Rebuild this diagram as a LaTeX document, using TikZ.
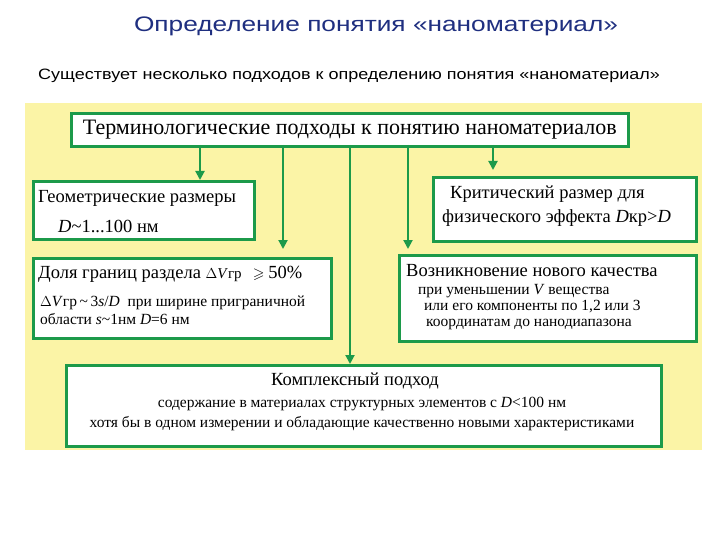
\documentclass[tikz,border=0pt]{standalone}
\usepackage{amssymb}
\usepackage{fontspec}
\setmainfont{Liberation Serif}
\newfontfamily\sansf{Liberation Sans}
\usetikzlibrary{arrows.meta}
\definecolor{gr}{HTML}{1C9A4A}
\definecolor{yel}{HTML}{FBF4A6}
\definecolor{ttl}{HTML}{1F2F80}
\tikzset{
 bx/.style={draw=gr,line width=2.6pt,fill=white,inner sep=0pt,anchor=north west},
 arr/.style={draw=gr,line width=2pt,-{Triangle[length=9pt,width=9pt]}},
 big/.style={font=\fontsize{22}{24}\selectfont,inner sep=0pt},
 mid/.style={font=\fontsize{18.5}{20}\selectfont,inner sep=0pt,anchor=west},
 sml/.style={font=\fontsize{15.5}{17}\selectfont,inner sep=0pt,anchor=west,align=left},
}
\begin{document}
\begin{tikzpicture}[x=1pt,y=-1pt]
\useasboundingbox (0,0) rectangle (720,540);
\fill[white] (0,0) rectangle (720,540);
\node[font=\sansf\fontsize{21}{24}\selectfont,text=ttl,xscale=1.25,transform shape] (title) at (376,26) {Определение понятия «наноматериал»};
\node[font=\sansf\fontsize{15}{18}\selectfont,anchor=west,inner sep=0pt,xscale=1.2,transform shape] (sub) at (38,76) {Существует несколько подходов к определению понятия «наноматериал»};
\fill[yel] (25,103) rectangle (702,450);
\node[bx,minimum width=557pt,minimum height=33pt] (top) at (70,112) {};
\node[big] (toptxt) at (top.center) {Терминологические подходы к понятию наноматериалов};
\node[bx,minimum width=221pt,minimum height=58pt] (geo) at (32,180) {};
\node[mid] (geo1) at (38,198) {Геометрические размеры};
\node[mid] (geo2) at (58,226) {\textit{D}\textasciitilde1...100 нм};
\node[bx,minimum width=263pt,minimum height=64pt] (crit) at (432,176) {};
\node[mid] (crit1) at (450,194) {Критический размер для};
\node[mid] (crit2) at (442,218) {физического эффекта \textit{D}кр>\textit{D}};
\node[bx,minimum width=298pt,minimum height=80pt] (dol) at (32,257) {};
\node[mid] (dol1) at (38,274) {Доля границ раздела \fontsize{15}{17}\selectfont$\Delta$\textit{V}гр \ \ $\geqslant$ \fontsize{18.5}{20}\selectfont 50\%};
\node[sml] (dol2) at (40,310) {$\Delta$\textit{V}гр\,\textasciitilde\,3\textit{s}/\textit{D} \ при ширине приграничной\\[1pt] области \textit{s}\textasciitilde1нм \textit{D}=6 нм};
\node[bx,minimum width=297pt,minimum height=86pt] (voz) at (398,254) {};
\node[mid] (voz1) at (406,271) {Возникновение нового качества};
\node[sml] (voz2) at (418,307) {при уменьшении \textit{V} вещества\\[-1pt]\hspace*{6pt}или его компоненты по 1,2 или 3\\[-1pt]\hspace*{8pt}координатам до нанодиапазона};
\node[bx,minimum width=595pt,minimum height=81pt] (kom) at (65,364) {};
\node[mid,anchor=center] (kom1) at (355,381) {Комплексный подход};
\node[sml,anchor=center] (kom2) at (362,404) {содержание в материалах структурных элементов с \textit{D}<100 нм};
\node[sml,anchor=center] (kom3) at (362,424) {хотя бы в одном измерении и обладающие качественно новыми характеристиками};
\coordinate (a1) at (200,145); \coordinate (a2) at (283,145); \coordinate (a3) at (350,145);
\coordinate (a4) at (408,145); \coordinate (a5) at (493,145);
\draw[arr] (a1) -- (a1 |- geo.north);
\draw[arr] (a2) -- (283,249);
\draw[arr] (a3) -- (a3 |- kom.north);
\draw[arr] (a4) -- (408,249);
\draw[arr] (a5) -- (493,170);
\end{tikzpicture}
\end{document}
